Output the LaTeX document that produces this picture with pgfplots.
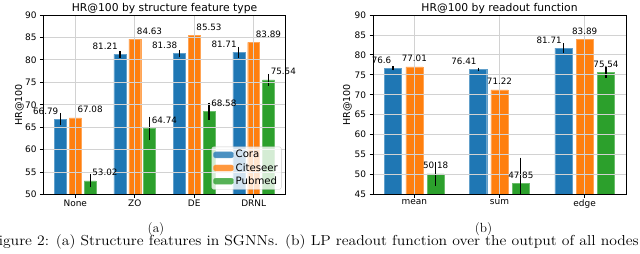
\documentclass[border=0pt]{standalone}
\usepackage{pgfplots}
\pgfplotsset{compat=1.18}
\usepackage{pgfplotstable}
\usepackage{graphicx}
\usepackage{fontspec}
\newfontfamily\dejavu{DejaVu Sans}
\definecolor{cA}{RGB}{31,119,180}
\definecolor{cB}{RGB}{255,127,14}
\definecolor{cC}{RGB}{44,160,44}
\definecolor{gridc}{RGB}{210,210,210}

\pgfplotstableread{
x y e l
0 66.79 1.4 66.79
1 81.21 0.8 81.21
2 81.38 0.8 81.38
3 81.71 1.2 81.71
}\aCora
\pgfplotstableread{
x y e l
0 67.08 2.8 67.08
1 84.63 1.35 84.63
2 85.53 1.0 85.53
3 83.89 2.1 83.89
}\aCite
\pgfplotstableread{
x y e l
0 53.02 1.45 53.02
1 64.74 2.6 64.74
2 68.58 1.9 68.58
3 75.54 1.35 75.54
}\aPub
\pgfplotstableread{
x y e l
0 76.6 0.5 76.6
1 76.41 0.4 76.41
2 81.71 1.2 81.71
}\bCora
\pgfplotstableread{
x y e l
0 77.01 2.2 77.01
1 71.22 2.2 71.22
2 83.89 2.1 83.89
}\bCite
\pgfplotstableread{
x y e l
0 50.18 3.0 50.18
1 47.85 6.4 47.85
2 75.54 1.35 75.54
}\bPub

\pgfplotsset{
  base/.style={
    scale only axis, ybar, bar width=0.2,
    axis on top,
    grid=major, grid style={gridc, line width=0.8bp},
    axis line style={black, line width=0.8bp},
    tick align=outside, tick pos=left,
    major tick length=3.5bp,
    tick style={black, line width=0.8bp},
    /pgf/number format/assume math mode=true,
    tick label style={font=\dejavu\fontsize{9}{10}\selectfont},
    xticklabel style={yshift=2bp},
    ylabel={HR@100},
    ylabel style={font=\dejavu\fontsize{9.6}{11}\selectfont, anchor=south, inner sep=0pt},
    every axis title/.style={font=\dejavu\fontsize{10.8}{12}\selectfont, at={(0.5,1)}, anchor=base, yshift=3.7bp},
    point meta=explicit symbolic,
    error bars/y dir=both, error bars/y explicit,
    error bars/error mark=none,
    error bars/error bar style={line width=1.2bp, black},
    legend image code/.code={\fill[##1] (0bp,-3bp) rectangle (20bp,3bp);},
  },
  lab/.style={nodes near coords,
    every node near coord/.append style={font=\dejavu\fontsize{8.8}{10}\selectfont, text=black, inner sep=0pt, yshift=5bp, #1}},
}

\begin{document}
\begin{tikzpicture}
\useasboundingbox (0,0) rectangle (640bp,254bp);
\begin{axis}[base,
  at={(43.5bp,59.5bp)}, anchor=south west,
  width=242bp, height=179.5bp,
  xmin=-0.535, xmax=3.535, ymin=50, ymax=90,
  ytick={50,55,...,90},
  xtick={0,1,2,3}, xticklabels={None,ZO,DE,DRNL},
  ylabel style={at={(axis description cs:-0.081,0.5)}},
  title={HR@100 by structure feature type},
  legend style={font=\dejavu\fontsize{10.2}{11.5}\selectfont, at={(1,0)}, anchor=south east,
    xshift=-4bp, yshift=5bp, draw={rgb,255:red,204;green,204;blue,204}, fill=white,
    fill opacity=0.8, text opacity=1, rounded corners=2bp, inner sep=1.5bp},
  legend cell align=left,
]
\addplot[fill=cA, draw=cA!70!white, bar shift=-0.25, lab={anchor=base east, xshift=-2bp}] table[x=x,y=y,y error=e,meta=l]{\aCora};
\addplot[fill=cB, draw=cB!70!white, bar shift=0, lab={anchor=base west, xshift=2bp}] table[x=x,y=y,y error=e,meta=l]{\aCite};
\addplot[fill=cC, draw=cC!70!white, bar shift=0.25, lab={anchor=base west, xshift=2bp}] table[x=x,y=y,y error=e,meta=l]{\aPub};
\legend{Cora,Citeseer,Pubmed}
\end{axis}

\begin{axis}[base,
  at={(373bp,59.5bp)}, anchor=south west,
  width=253bp, height=179.5bp,
  xmin=-0.485, xmax=2.485, ymin=45, ymax=90,
  ytick={45,50,...,90},
  xtick={0,1,2}, xticklabels={mean,sum,edge},
  ylabel style={at={(axis description cs:-0.083,0.5)}},
  title={HR@100 by readout function},
]
\addplot[fill=cA, draw=cA!70!white, bar shift=-0.25, lab={anchor=base east, xshift=-1.5bp}] table[x=x,y=y,y error=e,meta=l]{\bCora};
\addplot[fill=cB, draw=cB!70!white, bar shift=0, lab={anchor=base}] table[x=x,y=y,y error=e,meta=l]{\bCite};
\addplot[fill=cC, draw=cC!70!white, bar shift=0.25, lab={anchor=base}] table[x=x,y=y,y error=e,meta=l]{\bPub};
\end{axis}

\node[anchor=base, font=\fontsize{13.3}{15}\selectfont, inner sep=0pt] at (156bp,21.5bp) {(a)};
\node[anchor=base, font=\fontsize{13.3}{15}\selectfont, inner sep=0pt] at (483.5bp,21.5bp) {(b)};
\node[anchor=base east, font=\fontsize{14.5}{16}\selectfont, inner sep=0pt] at (639bp,8.3bp) {\resizebox{650bp}{\height}{Figure 2: (a) Structure features in SGNNs. (b) LP readout function over the output of all nodes}};
\end{tikzpicture}
\end{document}
